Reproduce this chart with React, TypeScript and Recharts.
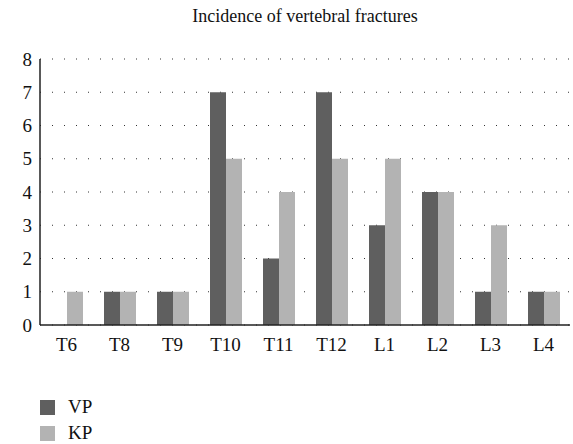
import { BarChart, Bar, XAxis, YAxis, CartesianGrid } from "recharts";

const levels = ["T6", "T8", "T9", "T10", "T11", "T12", "L1", "L2", "L3", "L4"];
const vp = [0, 1, 1, 7, 2, 7, 3, 4, 1, 1];
const kp = [1, 1, 1, 5, 4, 5, 5, 4, 3, 1];
const yTicks = [0, 1, 2, 3, 4, 5, 6, 7, 8];

const data = levels.map((level, i) => ({ level, VP: vp[i], KP: kp[i] }));

const FONT = "Liberation Serif";

export default function App() {
  return (
    <div style={{ position: "fixed", left: 0, top: 0, width: 573, height: 444, background: "#fff", fontFamily: FONT }}>
      <div style={{ position: "absolute", top: 6, left: 40, width: 530, textAlign: "center", fontSize: 18, color: "#111" }}>
        Incidence of vertebral fractures
      </div>
      <BarChart width={573} height={444} data={data} margin={{ top: 59, right: 3, left: 0, bottom: 89 }} barSize={16} barGap={0}>
        <CartesianGrid vertical={false} stroke="#333" strokeDasharray="1 11" />
        <XAxis
          dataKey="level"
          height={30}
          axisLine={{ stroke: "#222", strokeWidth: 1.5 }}
          tickLine={false}
          tick={{ fontSize: 19, fill: "#111", fontFamily: FONT }}
          tickMargin={7}
        />
        <YAxis
          width={40}
          domain={[0, 8]}
          ticks={yTicks}
          axisLine={{ stroke: "#222", strokeWidth: 1.5 }}
          tickLine={false}
          tick={{ fontSize: 19, fill: "#111", fontFamily: FONT }}
          interval={0}
        />
        <Bar dataKey="VP" fill="#5f5f5f" isAnimationActive={false} />
        <Bar dataKey="KP" fill="#b3b3b3" isAnimationActive={false} />
      </BarChart>
      {[
        { name: "VP", color: "#5f5f5f", top: 396 },
        { name: "KP", color: "#b3b3b3", top: 422 },
      ].map((item) => (
        <div key={item.name} style={{ position: "absolute", left: 40, top: item.top, display: "flex", alignItems: "center", fontSize: 19, color: "#111" }}>
          <span style={{ display: "inline-block", width: 15, height: 15, background: item.color, marginRight: 13 }} />
          {item.name}
        </div>
      ))}
    </div>
  );
}
